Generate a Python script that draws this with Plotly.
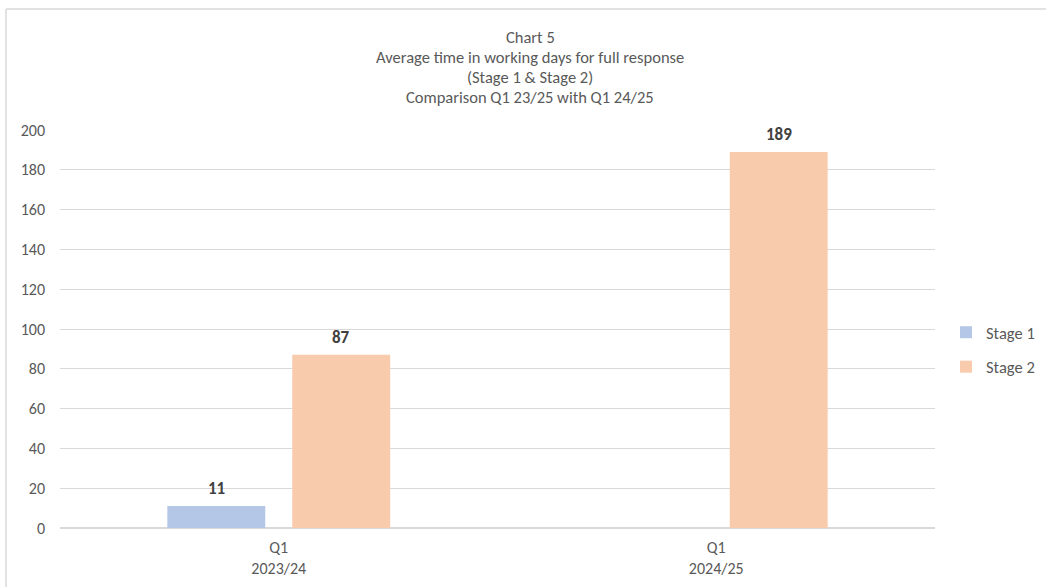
import plotly.graph_objects as go

# Data
categories = ["Q1<br>2023/24", "Q1<br>2024/25"]
stage1 = [11, None]
stage2 = [87, 189]
series_names = ["Stage 1", "Stage 2"]
colors = ["#B4C7E7", "#F8CBAD"]
y_ticks = list(range(0, 201, 20))

title_lines = [
    "Chart 5",
    "Average time in working days for full response",
    "(Stage 1 & Stage 2)",
    "Comparison Q1 23/25 with Q1 24/25",
]

FONT = "Calibri, Carlito, Lato, sans-serif"
W, H = 1046, 587
L, R, T, B = 60, 111, 130, 59

# Convert pixel coords into plot-paper fractions
pw, ph = W - L - R, H - T - B
def px(xp):
    return (xp - L) / pw
def py(yp):
    return (H - B - yp) / ph

fig = go.Figure()
for i, (name, vals) in enumerate(zip(series_names, [stage1, stage2])):
    fig.add_trace(go.Bar(
        x=categories, y=vals, name=name,
        marker=dict(color=colors[i], line=dict(width=0)),
        legendgroup=name,
        hoverinfo="skip",
    ))

# Value labels above each bar
annotations = []
for i, vals in enumerate([stage1, stage2]):
    shift = -62.5 if i == 0 else 62.5
    for cat, v in zip(categories, vals):
        if v is None:
            continue
        annotations.append(dict(
            x=cat, y=v, xref="x", yref="y", text=f"<b>{v}</b>",
            showarrow=False, xshift=shift, yshift=5, yanchor="bottom",
            font=dict(family=FONT, size=17, color="#404040"),
        ))

# Title lines
for k, line in enumerate(title_lines):
    y_px = 37 + k * 20
    annotations.append(dict(
        x=px(530), y=py(y_px), xref="paper", yref="paper",
        xanchor="center", yanchor="middle", text=line, showarrow=False,
        font=dict(family=FONT, size=16.5, color="#595959"),
    ))

shapes = [
    dict(type="line", xref="paper", yref="paper", x0=px(6), x1=px(1046), y0=py(9), y1=py(9),
         line=dict(color="#D9D9D9", width=1.5)),
    dict(type="line", xref="paper", yref="paper", x0=px(6), x1=px(6), y0=py(9), y1=py(590),
         line=dict(color="#D9D9D9", width=1.5)),
]

fig.update_layout(
    width=W, height=H,
    margin=dict(l=L, r=R, t=T, b=B, pad=0, autoexpand=False),
    paper_bgcolor="white", plot_bgcolor="white",
    barmode="group", bargap=0.429, bargroupgap=0.216,
    font=dict(family=FONT, size=16, color="#595959"),
    showlegend=True,
    legend=dict(
        x=px(946), y=py(315), xanchor="left", yanchor="top",
        font=dict(family=FONT, size=16.5, color="#595959"),
        tracegroupgap=10, bgcolor="rgba(0,0,0,0)",
        itemwidth=30,
    ),
    annotations=annotations,
    shapes=shapes,
    xaxis=dict(
        showgrid=False, showline=False, zeroline=False, ticks="",
        tickfont=dict(family=FONT, size=16, color="#595959"),
        ticklabelstandoff=8,
    ),
    yaxis=dict(
        range=[0, 200], tickvals=y_ticks, showgrid=True, gridcolor="#D9D9D9", gridwidth=1,
        zeroline=True, zerolinecolor="#D9D9D9", zerolinewidth=1.5, showline=False, ticks="",
        tickfont=dict(family=FONT, size=16, color="#595959"),
        ticklabelstandoff=14, fixedrange=True,
    ),
)

fig.write_html("out.html")
